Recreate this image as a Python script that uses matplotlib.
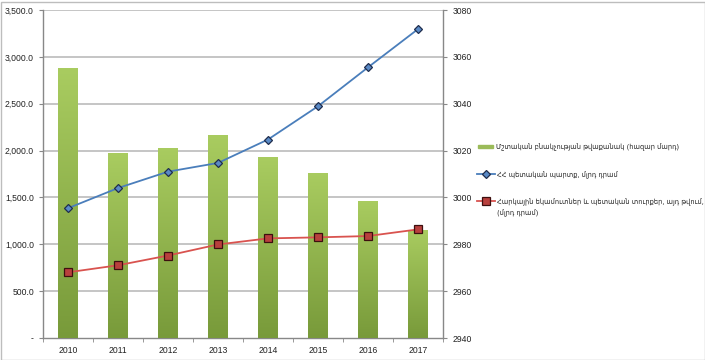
import matplotlib
matplotlib.use("Agg")
import matplotlib.pyplot as plt
import numpy as np
from matplotlib.patches import Rectangle
from matplotlib.lines import Line2D
from matplotlib.colors import LinearSegmentedColormap
from matplotlib.ticker import FuncFormatter

years = ["2010", "2011", "2012", "2013", "2014", "2015", "2016", "2017"]
population = [3055.2, 3018.8, 3021.2, 3026.6, 3017.1, 3010.5, 2998.6, 2986.1]
state_debt = [1385, 1600, 1775, 1868, 2118, 2473, 2888, 3296]
tax_revenue = [701, 776, 880, 998, 1063, 1074, 1088, 1159]

label_pop = "Մշտական բնակչության թվաքանակ (հազար մարդ)"
label_debt = "ՀՀ պետական պարտք, մլրդ դրամ"
label_tax_1 = "Հարկային եկամուտներ և պետական տուրքեր, այդ թվում,"
label_tax_2 = "(մլրդ դրամ)"

plt.rcParams['font.family'] = ['Liberation Sans', 'DejaVu Sans']

W, H = 705, 360
fig = plt.figure(figsize=(W/100, H/100), dpi=100)
fig.patch.set_facecolor('white')
fig.add_artist(Rectangle((0.5/W, 0.5/H), 1-1/W, 1-2/H, transform=fig.transFigure,
                         fill=False, edgecolor='#bdbdbd', lw=1))

def fx(px):
    return px / W

def fy(py):
    return 1 - py / H

ax = fig.add_axes([fx(43), fy(338), 400/W, 328/H])
x = np.arange(len(years))

BAR_COLOR = '#9bbb59'
# bars on the right-hand scale
ax.set_ylim(2940, 3080)
ax.set_xlim(-0.5, len(years)-0.5)
bars = ax.bar(x, np.array(population) - 2940, bottom=2940, width=0.4,
              color=BAR_COLOR, zorder=2, edgecolor='none')
cmap = LinearSegmentedColormap.from_list('g', ['#789a3a', '#a9cc60'])
grad = np.linspace(0, 1, 256).reshape(-1, 1)
for b in bars:
    x0, y0 = b.get_x(), b.get_y()
    w, h = b.get_width(), b.get_height()
    im = ax.imshow(grad, extent=(x0, x0 + w, y0, y0 + h), origin='lower',
                   cmap=cmap, aspect='auto', zorder=3)
    im.set_clip_path(b)
ax.set_xlim(-0.5, len(years)-0.5)
ax.set_ylim(2940, 3080)
ax.set_yticks(np.arange(2940, 3081, 20))
for yv in np.arange(2960, 3081, 20):
    ax.axhline(yv, color='#c0c0c0', lw=1.3, zorder=1)

ax.set_xticks(x)
ax.set_xticklabels(years)
ax.set_xticks(np.arange(-0.5, len(years), 1), minor=True)
ax.tick_params(axis='x', which='major', length=0, labelsize=6.2, pad=6, labelcolor='#222222')
ax.tick_params(axis='x', which='minor', length=3, color='#888888', direction='out')

ax.spines['top'].set_visible(False)
for s in ['left', 'right', 'bottom']:
    ax.spines[s].set_color('#888888')
    ax.spines[s].set_linewidth(1)

# lines on the left-hand scale
ax2 = ax.twinx()
ax.yaxis.tick_right()
ax.tick_params(axis='y', which='both', labelsize=6.2, length=3, color='#888888',
               direction='out', pad=4, labelcolor='#222222', left=False, labelleft=False,
               right=True, labelright=True)
ax2.set_ylim(0, 3500)
ax2.yaxis.tick_left()
ax2.set_yticks(np.arange(0, 3501, 500))
ax2.yaxis.set_major_formatter(FuncFormatter(lambda v, p: '-' if v == 0 else f"{v:,.1f}"))
ax2.tick_params(axis='y', labelsize=6.2, length=3, color='#888888', direction='out',
                pad=3.5, labelcolor='#222222', right=False, labelright=False)
for s in ['top', 'right', 'left', 'bottom']:
    ax2.spines[s].set_visible(False)

BLUE_LINE = dict(color='#4a7ebb', lw=1.3, marker='D', markersize=4.3,
                 markerfacecolor='#5a8ac6', markeredgecolor='#1f2d4d', markeredgewidth=0.9)
RED_LINE = dict(color='#d9534f', lw=1.3, marker='s', markersize=5.3,
                markerfacecolor='#b8403d', markeredgecolor='#3d0f0f', markeredgewidth=0.9)
ax2.plot(x, state_debt, zorder=5, **BLUE_LINE)
ax2.plot(x, tax_revenue, zorder=5, **RED_LINE)

# legend drawn by hand
LFS = 4.8
fig.add_artist(Rectangle((fx(478), fy(148)), 15/W, 3/H, transform=fig.transFigure,
                         color=BAR_COLOR))
fig.text(fx(496), fy(147), label_pop, fontsize=LFS, va='center', ha='left',
         color='#222222', family=['DejaVu Sans'])
fig.add_artist(Line2D([fx(477), fx(495)], [fy(174), fy(174)], transform=fig.transFigure,
                      **{k: v for k, v in BLUE_LINE.items() if k != 'marker'}))
fig.add_artist(Line2D([fx(486)], [fy(174)], transform=fig.transFigure, **BLUE_LINE))
fig.text(fx(497), fy(175), label_debt, fontsize=LFS, va='center', ha='left',
         color='#222222', family=['DejaVu Sans'])
fig.add_artist(Line2D([fx(477), fx(495)], [fy(201), fy(201)], transform=fig.transFigure,
                      **{k: v for k, v in RED_LINE.items() if k != 'marker'}))
fig.add_artist(Line2D([fx(486)], [fy(201)], transform=fig.transFigure, **RED_LINE))
fig.text(fx(497), fy(202), label_tax_1, fontsize=LFS, va='center', ha='left',
         color='#222222', family=['DejaVu Sans'])
fig.text(fx(497), fy(213), label_tax_2, fontsize=LFS, va='center', ha='left',
         color='#222222', family=['DejaVu Sans'])

fig.savefig('out.png', dpi=100)
